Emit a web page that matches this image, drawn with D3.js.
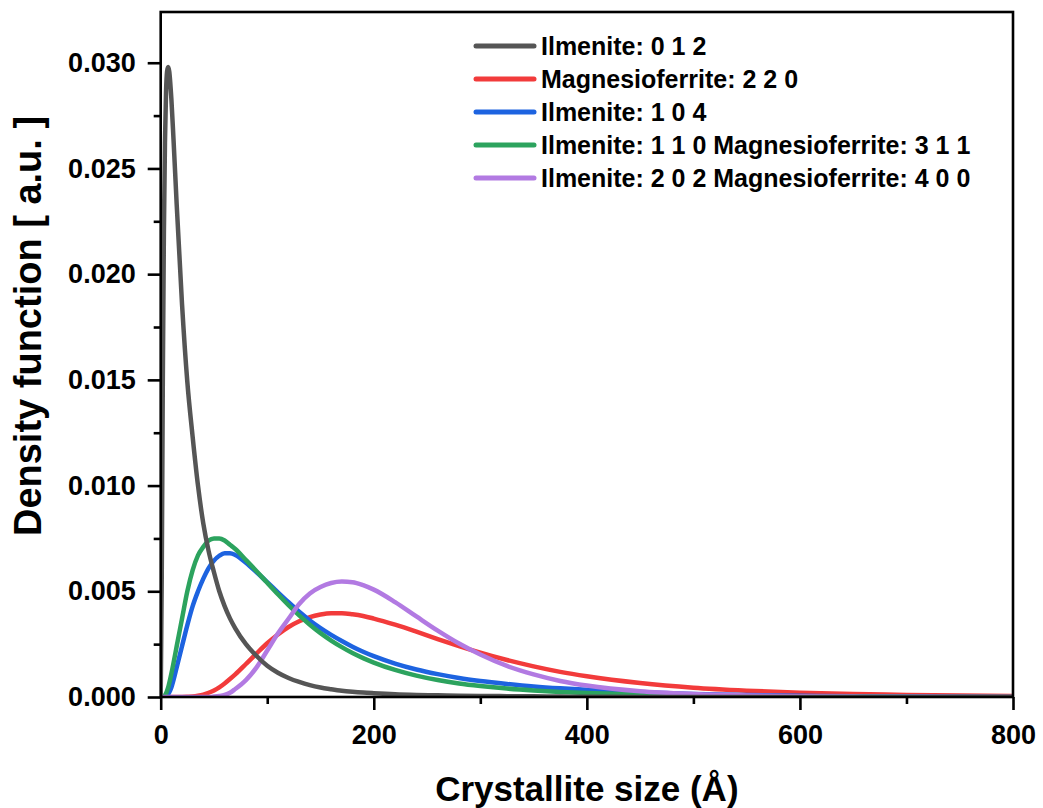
<!DOCTYPE html>
<html>
<head>
<meta charset="utf-8">
<script src="https://cdn.jsdelivr.net/npm/d3@7"></script>
<style>
  body { margin: 0; background: #ffffff; }
  text { font-family: "Liberation Sans", Arial, sans-serif; font-weight: bold; fill: #000; }
</style>
</head>
<body>
<svg id="chart" width="1043" height="808"></svg>
<script>
// Crystallite size grid (Å) shared by every density curve
const sizes = [0,1,2,3,4,5,6,7,8,10,12,15,20,25,30,35,40,45,50,55,60,65,70,
  80,90,100,110,120,130,140,150,160,170,180,190,200,220,240,260,280,300,
  325,350,375,400,450,500,550,600,650,700,750,800];

// Density function values for each reflection
const ilmenite012 = [0,0.0058,0.0151,0.0220,0.0262,0.0286,0.0296,0.0298,0.0296,
  0.0283,0.0264,0.0233,
  0.0186,0.0149,0.0123,0.0100,0.0082,0.0069,0.0059,0.0050,0.0043,0.00372,0.00325,
  0.0025,0.00194,0.00148,0.00115,0.0009,0.00071,0.00056,0.00045,0.00037,0.0003,0.00025,0.00021,0.00018,
  0.00013,0.0001,0.00008,0.00006,0.00005,
  0.00004,0.00003,0.00002,0.00001,
  0.000005,0,0,0,0,0,0,0];

const magnesioferrite220 = [0,0,0,0,0,0,0,0,0,
  0,0,0,
  0,0.000007,0.00002,0.000055,0.00011,0.0002,0.00031,0.00046,0.00064,0.00085,0.00107,
  0.00156,0.00206,0.00254,0.00296,0.00331,0.00358,0.00378,0.0039,0.00396,0.00396,0.00391,0.00383,0.00371,
  0.00342,0.00309,0.00274,0.00241,0.0021,
  0.00175,0.00145,0.00119,0.00098,
  0.00066,0.00044,0.0003,0.0002,0.00014,0.0001,0.00007,0.00005];

const ilmenite104 = [0,0,0,0.00001,0.00002,0.00004,0.00008,0.00014,0.00022,
  0.00045,0.0008,0.0014,
  0.0024,0.0034,0.0043,0.0050,0.0056,0.0061,0.00645,0.00668,0.0068,0.0068,0.00672,
  0.00635,0.0059,0.00543,0.00495,0.00448,0.00403,0.00362,0.00326,0.00294,0.00265,0.00238,0.00214,0.00193,
  0.00158,0.0013,0.00108,0.0009,0.00076,
  0.00062,0.0005,0.00041,0.00034,
  0.00022,0.00014,0.00009,0.00006,0.00004,0.00002,0.00001,0];

const ilmenite110mf311 = [0,0,0.00001,0.00003,0.00008,0.00017,0.0003,0.00045,0.00065,
  0.0011,0.0016,0.0024,
  0.0037,0.0050,0.0060,0.0067,0.0071,0.0074,0.0075,0.0075,0.0074,0.0072,0.0070,
  0.00648,0.00595,0.0054,0.00486,0.00434,0.00386,0.00342,0.00302,0.00267,0.00236,0.00208,0.00184,0.00163,
  0.00128,0.00101,0.0008,0.00064,0.00052,
  0.0004,0.00031,0.00024,0.00019,
  0.00012,0.00007,0.00004,0.00003,0.00002,0.00001,0,0];

const ilmenite202mf400 = [0,0,0,0,0,0,0,0,0,
  0,0,0,
  0,0,0,0,0,0,0.00002,0.00005,0.0001,0.0002,0.00038,
  0.0008,0.0014,0.0022,0.0030,0.0037,0.0044,0.0049,0.0052,0.00539,0.00546,0.00543,0.00529,0.00508,
  0.00449,0.00381,0.00314,0.00253,0.00201,
  0.00147,0.00107,0.00076,0.00054,
  0.00027,0.00014,0.00007,0.000035,0.000018,0.000009,0.000005,0.000002];

const seriesNames = [
  "Ilmenite: 0 1 2",
  "Magnesioferrite: 2 2 0",
  "Ilmenite: 1 0 4",
  "Ilmenite: 1 1 0 Magnesioferrite: 3 1 1",
  "Ilmenite: 2 0 2 Magnesioferrite: 4 0 0"
];
const seriesValues = [ilmenite012, magnesioferrite220, ilmenite104, ilmenite110mf311, ilmenite202mf400];
const seriesColors = ["#555555", "#f23b3b", "#1d63e0", "#2ca35e", "#b27ae2"];

const xMajorTicks = [0, 200, 400, 600, 800];
const xMinorTicks = [100, 300, 500, 700];
const yMajorTicks = [0, 0.005, 0.010, 0.015, 0.020, 0.025, 0.030];
const yMinorTicks = [0.0025, 0.0075, 0.0125, 0.0175, 0.0225, 0.0275];

// Layout
const plotLeft = 160.7, plotRight = 1013, plotTop = 12, plotBottom = 697;

const svg = d3.select("#chart");

const x = d3.scaleLinear().domain([0, 800]).range([plotLeft, plotRight]);
const y = d3.scaleLinear().domain([0, 0.0324]).range([plotBottom, plotTop]);

svg.append("defs").append("clipPath").attr("id", "plotClip")
  .append("rect").attr("x", plotLeft).attr("y", plotTop - 4)
  .attr("width", plotRight - plotLeft).attr("height", plotBottom - plotTop + 4);

// Curves
const line = d3.line()
  .x(d => x(d[0]))
  .y(d => y(d[1]))
  .curve(d3.curveMonotoneX);

const drawOrder = [1, 2, 3, 4, 0];
const curves = svg.append("g").attr("clip-path", "url(#plotClip)");
drawOrder.forEach(i => {
  curves.append("path")
    .datum(sizes.map((s, k) => [s, seriesValues[i][k]]))
    .attr("d", line)
    .attr("fill", "none")
    .attr("stroke", seriesColors[i])
    .attr("stroke-width", 4.5)
    .attr("stroke-linejoin", "round")
    .attr("stroke-linecap", "round");
});

// Axes
const axisStroke = 2.6;
function styleAxis(g) {
  g.select(".domain").remove();
  g.selectAll(".tick line").attr("stroke", "#000").attr("stroke-width", axisStroke);
  g.selectAll(".tick text").style("font-size", "27px");
}

const xAxis = svg.append("g").attr("transform", `translate(0,${plotBottom})`)
  .call(d3.axisBottom(x).tickValues(xMajorTicks).tickSize(13).tickPadding(15).tickFormat(d3.format("d")));
styleAxis(xAxis);

const xMinor = svg.append("g").attr("transform", `translate(0,${plotBottom})`)
  .call(d3.axisBottom(x).tickValues(xMinorTicks).tickSize(7).tickFormat(""));
styleAxis(xMinor);

const yAxis = svg.append("g").attr("transform", `translate(${plotLeft},0)`)
  .call(d3.axisLeft(y).tickValues(yMajorTicks).tickSize(13).tickPadding(12).tickFormat(d3.format(".3f")));
styleAxis(yAxis);

const yMinor = svg.append("g").attr("transform", `translate(${plotLeft},0)`)
  .call(d3.axisLeft(y).tickValues(yMinorTicks).tickSize(7).tickFormat(""));
styleAxis(yMinor);

// Frame
svg.append("rect")
  .attr("x", plotLeft).attr("y", plotTop)
  .attr("width", plotRight - plotLeft).attr("height", plotBottom - plotTop)
  .attr("fill", "none").attr("stroke", "#000").attr("stroke-width", axisStroke);

// Axis titles
svg.append("text")
  .attr("x", (plotLeft + plotRight) / 2).attr("y", 801)
  .attr("text-anchor", "middle")
  .style("font-size", "35px")
  .text("Crystallite size (Å)");

svg.append("text")
  .attr("transform", `translate(41,326) rotate(-90)`)
  .attr("text-anchor", "middle")
  .style("font-size", "38px")
  .text("Density function [ a.u. ]");

// Legend
const legend = svg.append("g");
const legendX0 = 476, legendX1 = 534, legendY0 = 46, legendStep = 33;
seriesNames.forEach((name, i) => {
  const ly = legendY0 + i * legendStep;
  legend.append("line")
    .attr("x1", legendX0).attr("x2", legendX1)
    .attr("y1", ly).attr("y2", ly)
    .attr("stroke", seriesColors[i]).attr("stroke-width", 5)
    .attr("stroke-linecap", "round");
  legend.append("text")
    .attr("x", 541).attr("y", ly + 9)
    .style("font-size", "25px")
    .text(name);
});
</script>
</body>
</html>
